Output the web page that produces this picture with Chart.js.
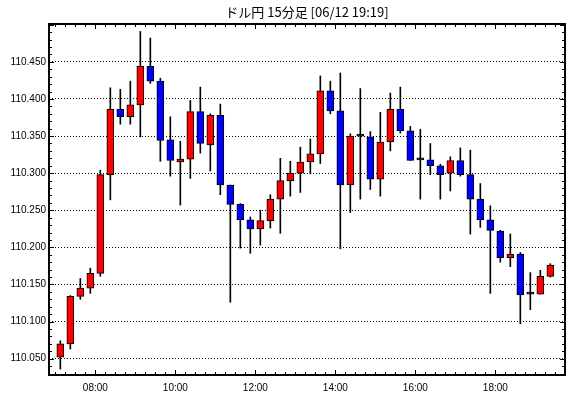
<!DOCTYPE html>
<html>
<head>
<meta charset="utf-8">
<script src="https://cdn.jsdelivr.net/npm/chart.js@4"></script>
<style>
  html, body { margin: 0; padding: 0; background: #fff; }
  canvas { display: block; }
</style>
</head>
<body>
<canvas id="candleChart" width="570" height="398"></canvas>
<script>
// USD/JPY 15 minute candles, 06/12
const chartTitle = 'ドル円 15分足 [06/12 19:19]';
const times = ['07:00','07:15','07:30','07:45','08:00','08:15','08:30','08:45','09:00','09:15',
               '09:30','09:45','10:00','10:15','10:30','10:45','11:00','11:15','11:30','11:45',
               '12:00','12:15','12:30','12:45','13:00','13:15','13:30','13:45','14:00','14:15',
               '14:30','14:45','15:00','15:15','15:30','15:45','16:00','16:15','16:30','16:45',
               '17:00','17:15','17:30','17:45','18:00','18:15','18:30','18:45','19:00','19:15'];
const opens  = [110.052,110.070,110.134,110.145,110.165,110.298,110.386,110.376,110.392,110.444,
                110.424,110.345,110.315,110.319,110.383,110.338,110.378,110.284,110.258,110.237,
                110.225,110.236,110.265,110.290,110.300,110.315,110.326,110.411,110.384,110.284,
                110.350,110.349,110.292,110.342,110.386,110.357,110.318,110.318,110.310,110.300,
                110.317,110.298,110.265,110.237,110.222,110.186,110.191,110.137,110.137,110.161];
const highs  = [110.074,110.135,110.158,110.172,110.304,110.415,110.413,110.424,110.491,110.482,
                110.428,110.376,110.343,110.398,110.416,110.380,110.393,110.284,110.259,110.241,
                110.250,110.271,110.320,110.316,110.335,110.346,110.431,110.424,110.435,110.353,
                110.414,110.356,110.382,110.408,110.416,110.363,110.359,110.340,110.312,110.322,
                110.334,110.331,110.286,110.256,110.223,110.218,110.193,110.166,110.169,110.178];
const lows   = [110.036,110.063,110.130,110.138,110.161,110.264,110.366,110.366,110.349,110.421,
                110.316,110.296,110.257,110.293,110.327,110.303,110.271,110.126,110.199,110.192,
                110.203,110.226,110.219,110.269,110.274,110.299,110.313,110.380,110.198,110.247,
                110.265,110.278,110.269,110.330,110.354,110.317,110.265,110.298,110.265,110.276,
                110.296,110.218,110.227,110.138,110.180,110.174,110.097,110.116,110.137,110.160];
const closes = [110.070,110.134,110.145,110.165,110.298,110.386,110.376,110.392,110.444,110.424,
                110.344,110.317,110.319,110.383,110.340,110.378,110.284,110.258,110.237,110.225,
                110.236,110.265,110.290,110.300,110.315,110.326,110.411,110.384,110.284,110.350,
                110.350,110.292,110.342,110.386,110.357,110.317,110.318,110.310,110.298,110.317,
                110.298,110.265,110.237,110.223,110.186,110.191,110.136,110.137,110.161,110.176];

const yTickValues = [110.05, 110.10, 110.15, 110.20, 110.25, 110.30, 110.35, 110.40, 110.45];
const xTickLabels = ['08:00', '10:00', '12:00', '14:00', '16:00', '18:00'];

const toMinutes = s => { const p = s.split(':'); return (+p[0]) * 60 + (+p[1]); };
const xTickValues = xTickLabels.map(toMinutes);

// each candle sits in the middle of its 15 minute slot
const centers = times.map(t => toMinutes(t) + 7.5);
const wickData = centers.map((x, i) => ({ x: x, y: [lows[i], highs[i]] }));
const bodyData = centers.map((x, i) => ({ x: x, y: [opens[i], closes[i]] }));
const bodyColors = opens.map((o, i) => closes[i] > o ? '#ff0000' : (closes[i] < o ? '#0000ff' : '#000000'));

Chart.defaults.font.family = '"Liberation Sans", Arial, sans-serif';
Chart.defaults.font.size = 10;
Chart.defaults.color = '#000';

// frame, inward tick marks and title
const framePlugin = {
    id: 'frame',
    afterDraw(chart) {
        const { ctx, chartArea: a, scales } = chart;
        const xs = scales.x, ys = scales.y;
        ctx.save();
        ctx.strokeStyle = '#000';
        ctx.lineWidth = 1;
        ctx.beginPath();
        // y ticks every 0.01, longer at labelled values
        for (let k = Math.ceil(ys.min * 100); k <= Math.floor(ys.max * 100); k++) {
            const v = k / 100;
            const py = Math.round(ys.getPixelForValue(v)) + 0.5;
            const len = (k % 5 === 0) ? 5 : 3;
            ctx.moveTo(a.left, py); ctx.lineTo(a.left + len, py);
            ctx.moveTo(a.right, py); ctx.lineTo(a.right - len, py);
        }
        // x ticks every 15 minutes, longer on even hours
        for (let m = Math.ceil(xs.min / 15) * 15; m <= xs.max; m += 15) {
            const px = Math.round(xs.getPixelForValue(m)) + 0.5;
            const len = (m % 120 === 0) ? 5 : 3;
            ctx.moveTo(px, a.bottom); ctx.lineTo(px, a.bottom - len);
            ctx.moveTo(px, a.top); ctx.lineTo(px, a.top + len);
        }
        ctx.stroke();
        ctx.lineWidth = 2;
        ctx.strokeRect(a.left, a.top, a.right - a.left, a.bottom - a.top);

        ctx.fillStyle = '#000';
        ctx.font = '13px "Noto Sans CJK JP", sans-serif';
        ctx.textAlign = 'center';
        ctx.textBaseline = 'middle';
        ctx.fillText(chartTitle, (a.left + a.right) / 2, 12);
        ctx.restore();
    }
};

const ctx = document.getElementById('candleChart').getContext('2d');
const candleChart = new Chart(ctx, {
    type: 'bar',
    data: {
        datasets: [{
            label: 'body',
            data: bodyData,
            backgroundColor: bodyColors,
            borderColor: '#000',
            borderWidth: 1,
            borderSkipped: false,
            barThickness: 7,
            minBarLength: 2,
            grouped: false,
            order: 1
        }, {
            label: 'wick',
            data: wickData,
            backgroundColor: '#000',
            borderWidth: 0,
            barThickness: 1,
            grouped: false,
            order: 2
        }]
    },
    options: {
        responsive: false,
        animation: false,
        layout: { padding: { top: 24, right: 5, left: 0, bottom: 0 } },
        plugins: {
            legend: { display: false },
            tooltip: { enabled: false }
        },
        scales: {
            x: {
                type: 'linear',
                offset: false,
                min: 410.5,
                max: 1184.5,
                grid: { display: false, offset: false, drawTicks: false },
                border: { display: false },
                afterBuildTicks: scale => { scale.ticks = xTickValues.map(v => ({ value: v })); },
                afterFit: scale => { scale.height = 23; },
                ticks: {
                    padding: 7,
                    maxRotation: 0,
                    autoSkip: false,
                    callback: (v) => xTickLabels[xTickValues.indexOf(v)]
                }
            },
            y: {
                min: 110.028,
                max: 110.501,
                grid: { color: '#000', lineWidth: 1, drawTicks: false },
                border: { display: false, dash: [1, 2] },
                afterBuildTicks: scale => { scale.ticks = yTickValues.map(v => ({ value: v })); },
                afterFit: scale => { scale.width = 49; },
                ticks: {
                    padding: 3,
                    callback: (v) => v.toFixed(3)
                }
            }
        }
    },
    plugins: [framePlugin]
});
</script>
</body>
</html>
